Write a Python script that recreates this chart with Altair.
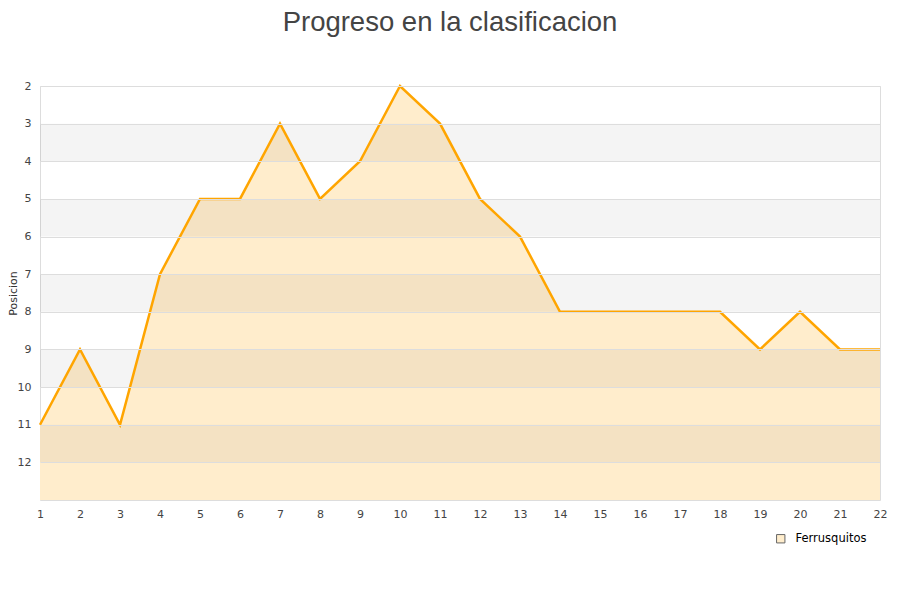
import altair as alt
import pandas as pd

jornadas = list(range(1, 23))
posiciones = [11, 9, 11, 7, 5, 5, 3, 5, 4, 2, 3, 5, 6, 8, 8, 8, 8, 8, 9, 8, 9, 9]
serie = "Ferrusquitos"
band_starts = [3, 5, 7, 9, 11]
y_ticks = list(range(2, 13))

df = pd.DataFrame({"jornada": jornadas, "posicion": posiciones,
                   "base": [13] * len(jornadas), "serie": [serie] * len(jornadas)})
bands = pd.DataFrame({"y": band_starts, "y2": [b + 1 for b in band_starts]})

W, H = 840, 414
xs = alt.Scale(domain=[1, 22], nice=False)
ys = alt.Scale(domain=[2, 13], reverse=True, nice=False, zero=False)

x_axis = alt.Axis(values=jornadas, title=None, grid=False, ticks=False, domain=False,
                  labelFontSize=11, labelColor="#444", labelPadding=8, format="d",
                  labelOverlap=False, labelFlush=False)
y_axis = alt.Axis(values=y_ticks, title="Posicion", grid=True, gridColor="#dddddd",
                  ticks=False, domain=False, labelFontSize=11, labelColor="#444",
                  labelPadding=9, titleFontSize=11, titleFontWeight="normal",
                  titleColor="#333", titlePadding=-1, format="d", zindex=1,
                  labelOverlap=False)

area = alt.Chart(df).mark_area(opacity=1, interpolate="linear").encode(
    x=alt.X("jornada:Q", scale=xs, axis=x_axis),
    y=alt.Y("posicion:Q", scale=ys, axis=y_axis),
    y2="base:Q",
    fill=alt.Fill("serie:N", scale=alt.Scale(domain=[serie], range=["#ffedcc"]),
                  legend=alt.Legend(title=None, orient="none", legendX=735, legendY=447,
                                    symbolType="square", symbolSize=70,
                                    symbolStrokeColor="#666", symbolStrokeWidth=1,
                                    labelFontSize=11.5, labelColor="#000", labelOffset=9,
                                    padding=0)),
)

band = alt.Chart(bands).mark_rect(color="#000", opacity=0.045).encode(
    x=alt.value(0), x2=alt.value(W),
    y=alt.Y("y:Q", scale=ys, axis=y_axis), y2="y2:Q",
)

line = alt.Chart(df).mark_line(color="#ffa500", strokeWidth=2.5).encode(
    x=alt.X("jornada:Q", scale=xs, axis=x_axis),
    y=alt.Y("posicion:Q", scale=ys, axis=y_axis),
)

chart = alt.layer(area, band, line).properties(
    width=W, height=H,
    autosize=alt.AutoSizeParams(type="none"),
    padding={"left": 32, "top": 78, "right": 12, "bottom": 80},
    title=alt.TitleParams("Progreso en la clasificacion", font="Liberation Sans", fontSize=27.5,
                          fontWeight="normal", color="#444", anchor="middle", offset=44, dx=-10),
).configure_view(stroke="#dddddd", strokeWidth=1).configure(font="DejaVu Sans").configure_axis(
    labelOverlap=False)

chart.save("out.html", embed_options={"renderer": "svg", "actions": False})
